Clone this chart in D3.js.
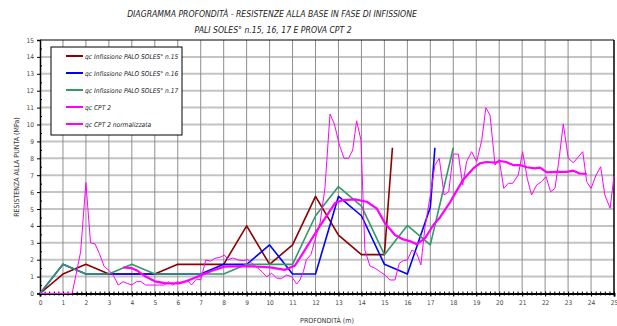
<!DOCTYPE html>
<html>
<head>
<meta charset="utf-8">
<script src="https://cdn.jsdelivr.net/npm/d3@7"></script>
<style>
  body { margin: 0; background: #fff; }
  text { font-family: "Liberation Sans Narrow", "DejaVu Sans Condensed", "Liberation Sans", sans-serif; }
</style>
</head>
<body>
<div id="chart"></div>
<script>
// depth (m) and resistance (MPa)
var depth15 = [0, 1, 2, 3, 4, 5, 6, 7, 8, 9, 10, 11, 12, 13, 14, 15, 15.35];
var qc15    = [0, 1.15, 1.725, 1.15, 1.15, 1.15, 1.725, 1.725, 1.725, 4.0, 1.725, 2.875, 5.75, 3.45, 2.3, 2.3, 8.625];

var depth16 = [0, 1, 2, 3, 4, 5, 6, 7, 8, 9, 10, 11, 12, 13, 14, 15, 16, 17, 17.2];
var qc16    = [0, 1.725, 1.15, 1.15, 1.15, 1.15, 1.15, 1.15, 1.725, 1.725, 2.875, 1.15, 1.15, 5.75, 4.6, 1.725, 1.15, 5.1, 8.625];

var depth17 = [0, 1, 2, 3, 4, 5, 6, 7, 8, 9, 10, 11, 12, 13, 14, 15, 16, 17, 18];
var qc17    = [0, 1.725, 1.15, 1.15, 1.725, 1.15, 1.15, 1.15, 1.15, 1.725, 1.725, 1.725, 4.6, 6.325, 5.175, 2.3, 4.025, 2.875, 8.625];

var depthCpt = [0, 1.4, 1.77, 2.0, 2.2, 2.4, 2.58, 2.8, 3.02, 3.22, 3.41, 3.62, 3.8, 4.0, 4.2, 4.4, 4.6, 4.8, 5.0, 5.2, 5.4, 5.6, 5.78, 5.98, 6.17, 6.4, 6.6, 6.82, 7.0, 7.22, 7.43, 7.62, 7.84, 8.03, 8.2, 8.4, 8.64, 8.86, 9.05, 9.22, 9.44, 9.67, 9.87, 10.09, 10.31, 10.52, 10.74, 10.96, 11.18, 11.32, 11.47, 11.6, 11.8, 11.98, 12.2, 12.41, 12.63, 12.82, 13.04, 13.24, 13.44, 13.62, 13.79, 13.98, 14.15, 14.37, 14.6, 14.8, 15.03, 15.24, 15.46, 15.65, 15.82, 16.0, 16.2, 16.4, 16.59, 16.77, 17.0, 17.2, 17.39, 17.6, 17.8, 18.0, 18.22, 18.41, 18.58, 18.8, 19.02, 19.24, 19.42, 19.6, 19.82, 20.0, 20.2, 20.4, 20.59, 20.83, 21.02, 21.22, 21.41, 21.63, 21.85, 22.04, 22.24, 22.43, 22.62, 22.79, 23.01, 23.23, 23.45, 23.64, 23.81, 24.0, 24.22, 24.42, 24.6, 24.83, 25.0];
var qcCpt    = [0, 0, 2.47, 6.56, 3.0, 2.93, 2.38, 1.59, 1.35, 1.0, 0.5, 0.7, 0.6, 0.5, 0.7, 0.7, 0.5, 0.5, 0.5, 0.5, 0.5, 0.7, 0.5, 0.7, 0.6, 0.8, 0.5, 0.86, 0.8, 1.98, 1.92, 2.08, 2.14, 2.28, 2.0, 2.1, 1.98, 1.95, 2.0, 1.8, 1.55, 1.29, 0.99, 1.2, 0.9, 0.9, 1.09, 1.0, 0.56, 0.8, 1.29, 2.0, 2.3, 3.17, 4.2, 6.22, 10.62, 10.03, 8.79, 8.0, 8.0, 8.49, 10.22, 9.08, 2.57, 1.63, 1.49, 1.3, 1.09, 0.8, 0.8, 1.79, 1.94, 1.98, 2.57, 2.4, 1.69, 3.95, 5.8, 7.6, 8.0, 5.83, 6.02, 8.25, 8.25, 6.42, 7.8, 8.39, 7.8, 9.08, 11.0, 10.56, 7.6, 7.94, 6.22, 6.52, 6.52, 7.01, 8.39, 6.82, 5.83, 6.42, 6.62, 6.91, 6.02, 6.22, 8.09, 10.03, 8.0, 7.74, 8.09, 8.39, 6.62, 6.22, 7.01, 7.5, 5.83, 5.04, 6.95];

var depthNorm = [3.63, 4.0, 4.2, 4.6, 5.0, 5.5, 6.0, 6.32, 6.5, 7.04, 7.5, 8.03, 9.0, 10.02, 10.67, 11.1, 11.32, 12.05, 12.85, 13.21, 13.72, 14.23, 14.66, 15.03, 15.46, 15.82, 16.1, 16.41, 16.77, 17.13, 17.42, 17.86, 18.0, 18.44, 18.87, 19.16, 19.45, 19.82, 20.03, 20.3, 20.61, 20.9, 21.2, 21.56, 21.78, 22.07, 22.5, 22.94, 23.23, 23.5, 23.81];
var qcNorm    = [1.55, 1.5, 1.38, 1.0, 0.72, 0.6, 0.6, 0.7, 0.8, 1.1, 1.35, 1.59, 1.62, 1.55, 1.4, 1.65, 2.1, 3.7, 5.35, 5.53, 5.57, 5.43, 5.04, 4.15, 3.46, 3.2, 3.1, 2.91, 3.27, 4.05, 4.5, 5.4, 5.73, 6.75, 7.4, 7.7, 7.78, 7.74, 7.84, 7.78, 7.6, 7.6, 7.47, 7.4, 7.45, 7.17, 7.2, 7.2, 7.27, 7.1, 7.07];

var seriesNames = ["qc Infissione PALO SOLES° n.15", "qc Infissione PALO SOLES° n.16", "qc Infissione PALO SOLES° n.17", "qc CPT 2", "qc CPT 2 normalizzata"];
var xTicks = d3.range(0, 26, 1);
var yTicks = d3.range(0, 16, 1);

var w = 617, h = 326;
var x = d3.scaleLinear().domain([0, 25]).range([40, 614]);
var y = d3.scaleLinear().domain([0, 15]).range([293.5, 40]);

var svg = d3.select("#chart").append("svg")
  .attr("width", w)
  .attr("height", h);

//Title
svg.append("text").attr("x", 272).attr("y", 17)
  .attr("text-anchor", "middle").attr("font-size", 8.6).attr("font-style", "italic").attr("fill", "#222")
  .text("DIAGRAMMA PROFONDITÀ - RESISTENZE ALLA BASE IN FASE DI INFISSIONE");
svg.append("text").attr("x", 273).attr("y", 33)
  .attr("text-anchor", "middle").attr("font-size", 8.6).attr("font-style", "italic").attr("fill", "#222")
  .text("PALI SOLES° n.15, 16, 17 E PROVA CPT 2");

//Grid
svg.append("g").selectAll("line").data(yTicks.slice(1, -1)).enter().append("line")
  .attr("x1", x(0)).attr("x2", x(25))
  .attr("y1", d => y(d)).attr("y2", d => y(d))
  .attr("stroke", "#c4c4c4").attr("stroke-width", 2);
svg.append("g").selectAll("line").data(xTicks.slice(1, -1)).enter().append("line")
  .attr("y1", y(0)).attr("y2", y(15))
  .attr("x1", d => x(d)).attr("x2", d => x(d))
  .attr("stroke", "#8e8e8e").attr("stroke-width", 1);

//Frame top / right
svg.append("line").attr("x1", x(0)).attr("x2", x(25)).attr("y1", y(15)).attr("y2", y(15)).attr("stroke", "#000");
svg.append("line").attr("x1", x(25)).attr("x2", x(25)).attr("y1", y(0)).attr("y2", y(15)).attr("stroke", "#000").attr("stroke-width", 1.5);

//Axes
var xAxis = svg.append("g").attr("transform", "translate(0," + y(0) + ")")
  .call(d3.axisBottom(x).tickValues(xTicks).tickSize(3).tickFormat(d3.format("d")));
svg.append("g").attr("transform", "translate(0," + y(0) + ")")
  .call(d3.axisBottom(x).tickValues(d3.range(0, 25.01, 0.2)).tickSize(2).tickFormat(""))
  .call(g => g.select(".domain").remove())
  .selectAll("line").attr("y1", -2);
xAxis.select(".domain").attr("stroke-width", 2);
xAxis.selectAll("text").attr("font-family", "Liberation Sans, sans-serif").attr("font-size", 6.5).attr("fill", "#444").attr("dy", "0.9em");

var yAxis = svg.append("g").attr("transform", "translate(" + x(0) + ",0)")
  .call(d3.axisLeft(y).tickValues(yTicks).tickSize(3).tickFormat(d3.format("d")));
svg.append("g").attr("transform", "translate(" + x(0) + ",0)")
  .call(d3.axisRight(y).tickValues(d3.range(0.5, 15, 1)).tickSize(2).tickFormat(""))
  .call(g => g.select(".domain").remove());
yAxis.select(".domain").attr("stroke-width", 1.5);
yAxis.selectAll("text").attr("font-family", "Liberation Sans, sans-serif").attr("font-size", 6.5).attr("fill", "#444");

//Axis titles
svg.append("text").attr("x", 327).attr("y", 323).attr("text-anchor", "middle")
  .attr("font-family", "Liberation Sans, sans-serif").attr("font-size", 7).attr("fill", "#333")
  .text("PROFONDITÀ (m)");
svg.append("text").attr("transform", "translate(19,167) rotate(-90)").attr("text-anchor", "middle")
  .attr("font-family", "Liberation Sans, sans-serif").attr("font-size", 7).attr("fill", "#333")
  .text("RESISTENZA ALLA PUNTA (MPa)");

//Lines
var line = d3.line().x(d => x(d[0])).y(d => y(d[1]));
var series = [
  { xs: depth15, ys: qc15, color: "#8b0000", width: 1.6 },
  { xs: depth16, ys: qc16, color: "#0000ff", width: 1.6 },
  { xs: depth17, ys: qc17, color: "#339966", width: 1.6 },
  { xs: depthCpt, ys: qcCpt, color: "#ff00ff", width: 1 },
  { xs: depthNorm, ys: qcNorm, color: "#ff00ff", width: 2.2 }
];
svg.append("g").selectAll("path").data(series).enter().append("path")
  .attr("d", s => line(d3.zip(s.xs, s.ys)))
  .attr("fill", "none")
  .attr("stroke", s => s.color)
  .attr("stroke-width", s => s.width)
  .attr("stroke-linejoin", "round");

//Legend
var legend = svg.append("g");
legend.append("rect").attr("x", 51).attr("y", 47).attr("width", 131).attr("height", 88)
  .attr("fill", "#fff").attr("stroke", "#000").attr("stroke-width", 1);
var rows = legend.selectAll("g.row").data(seriesNames).enter().append("g")
  .attr("transform", (d, i) => "translate(0," + (56 + i * 17) + ")");
rows.append("line").attr("x1", 66).attr("x2", 83).attr("y1", 0).attr("y2", 0)
  .attr("stroke", (d, i) => series[i].color).attr("stroke-width", 2);
rows.append("text").attr("x", 85).attr("y", 2.5).attr("font-size", 6.6).attr("font-style", "italic").attr("fill", "#222")
  .text(d => d);
</script>
</body>
</html>
